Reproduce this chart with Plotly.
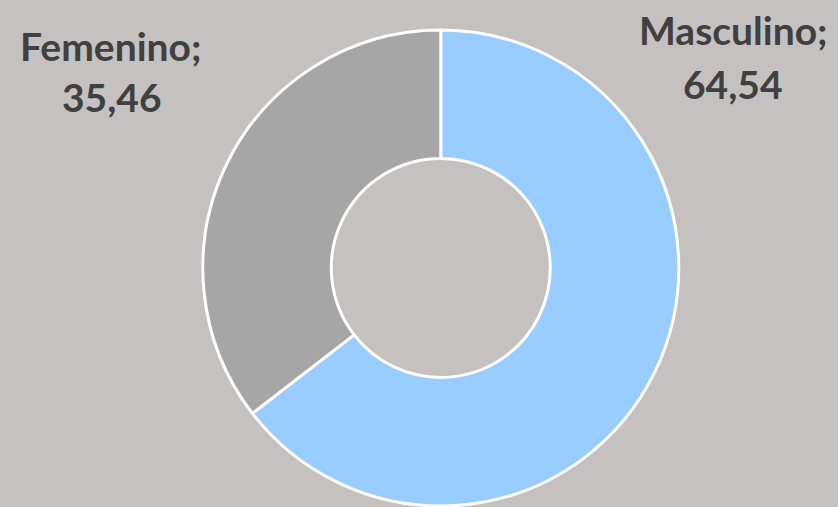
import plotly.graph_objects as go

labels = ["Masculino", "Femenino"]
values = [64.54, 35.46]
colors = ["#99ccff", "#a6a6a6"]
value_text = ["64,54", "35,46"]

W, H = 838, 507
fig = go.Figure(go.Pie(
    labels=labels, values=values, hole=0.46, sort=False,
    direction="clockwise", rotation=0,
    marker=dict(colors=colors, line=dict(color="white", width=3)),
    textinfo="none", hoverinfo="label+value",
    domain=dict(x=[0.242, 0.810], y=[0.002, 0.941]),
    showlegend=False,
))

font = dict(family="Lato, 'Open Sans', sans-serif", size=39, color="#404040")
pos = {"Femenino": [(111, 46), (112, 97)], "Masculino": [(733, 30), (733, 84)]}
anns = []
for lab, vt in zip(labels, value_text):
    (x1, y1), (x2, y2) = pos[lab]
    anns.append(dict(x=x1 / W, y=1 - y1 / H, xref="paper", yref="paper",
                     text=f"<b>{lab};</b>", showarrow=False, font=font,
                     xanchor="center", yanchor="middle"))
    anns.append(dict(x=x2 / W, y=1 - y2 / H, xref="paper", yref="paper",
                     text=f"<b>{vt}</b>", showarrow=False, font=font,
                     xanchor="center", yanchor="middle"))

fig.update_layout(
    width=W, height=H, margin=dict(l=0, r=0, t=0, b=0),
    paper_bgcolor="#c4c1c0", plot_bgcolor="#c4c1c0",
    annotations=anns,
)
fig.write_html("out.html", config={"displayModeBar": False},
               post_script="document.body.style.margin='0';document.body.style.background='#c4c1c0';")
